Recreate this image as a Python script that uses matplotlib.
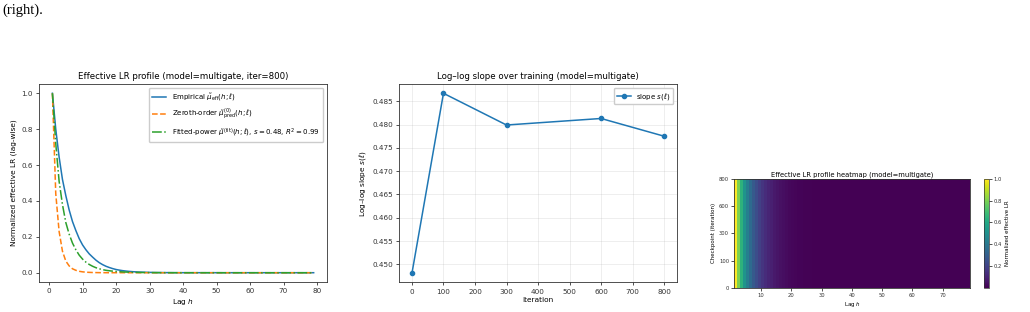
import matplotlib
matplotlib.use("Agg")
import matplotlib.pyplot as plt
import numpy as np

# lag axis and the three normalized profiles
LAGS = list(range(1, 80))

EMPIRICAL = [
    1.000, 0.800, 0.645, 0.520, 0.430, 0.350, 0.285, 0.235, 0.190, 0.155,
    0.128, 0.105, 0.087, 0.070, 0.056, 0.045, 0.036, 0.029, 0.023, 0.018,
    0.0145, 0.0115, 0.0092, 0.0073, 0.0058, 0.0046, 0.0037, 0.0030, 0.0024, 0.0019,
    0.0015, 0.0012, 0.0010, 0.0008, 0.0006, 0.0005, 0.0004, 0.0003, 0.0003,
] + [0.0002] * 10 + [0.0001] * 30

ZEROTH = [
    1.000, 0.440, 0.230, 0.120, 0.065, 0.038, 0.022, 0.0135, 0.008, 0.005,
    0.003, 0.002, 0.0012, 0.0008, 0.0005, 0.0003, 0.0002,
] + [0.0001] * 10 + [0.0] * 52

FITTED = [
    1.000, 0.720, 0.510, 0.380, 0.280, 0.215, 0.165, 0.128, 0.098, 0.076,
    0.059, 0.046, 0.036, 0.028, 0.022, 0.017, 0.0135, 0.011, 0.0088, 0.0071,
    0.0057, 0.0046, 0.0037, 0.0030, 0.0024, 0.0019, 0.0015, 0.0012, 0.0010, 0.0008,
    0.0006, 0.0005, 0.0004, 0.0003, 0.0002, 0.0002,
] + [0.0001] * 15 + [0.0] * 28

# log-log slope per checkpoint (middle panel)
ITERS = [0, 100, 300, 600, 800]
SLOPES = [0.4481, 0.4867, 0.4799, 0.4813, 0.4775]

S_FIT = 0.48
R2_FIT = 0.99

plt.rcParams.update(
    {
        "font.family": "DejaVu Sans",
        "mathtext.fontset": "dejavusans",
        "axes.linewidth": 0.6,
        "axes.edgecolor": "#333333",
        "xtick.major.width": 0.6,
        "ytick.major.width": 0.6,
        "xtick.major.size": 2.5,
        "ytick.major.size": 2.5,
        "xtick.major.pad": 2,
        "ytick.major.pad": 2,
        "xtick.color": "#333333",
        "ytick.color": "#333333",
    }
)

fig = plt.figure(figsize=(10.3, 3.12), dpi=100)

# caption fragment at top of the crop
fig.text(0.002, 0.99, "(right).", family="Liberation Serif", fontsize=10.5,
         ha="left", va="top")

# --- left: profile at iter=800
ax1 = fig.add_axes([0.0382, 0.0971, 0.279, 0.6327])
ax1.plot(LAGS, EMPIRICAL, color="#1f77b4", lw=1.1,
         label=r"Empirical $\tilde{\mu}_{\rm eff}(h;\ell)$")
ax1.plot(LAGS, ZEROTH, color="#ff7f0e", lw=1.1, ls="--",
         label=r"Zeroth-order $\tilde{\mu}^{(0)}_{\rm pred}(h;\ell)$")
ax1.plot(LAGS, FITTED, color="#2ca02c", lw=1.1, ls="-.",
         label=rf"Fitted-power $\tilde{{\mu}}^{{(\rm fit)}}(h;\ell)$, $s={S_FIT:.2f}$, $R^2={R2_FIT:.2f}$")
ax1.set_xticks(np.arange(0, 81, 10))
ax1.set_title("Effective LR profile (model=multigate, iter=800)", fontsize=6.2, pad=4)
ax1.set_xlabel("Lag $h$", fontsize=5.3, labelpad=2)
ax1.set_ylabel("Normalized effective LR (lag-wise)", fontsize=5.3, labelpad=3)
ax1.tick_params(labelsize=5.2)
ax1.legend(loc="upper right", fontsize=5.05, frameon=True, handlelength=2.0,
           borderpad=0.5, labelspacing=0.6, framealpha=1.0, edgecolor="#cccccc")

# --- middle: slope over training
ax2 = fig.add_axes([0.3877, 0.0952, 0.2693, 0.6346])
ax2.plot(ITERS, SLOPES, color="#1f77b4", lw=1.1, marker="o", ms=3,
         label=r"slope $s(\ell)$")
ax2.grid(True, alpha=0.3, lw=0.5)
ax2.set_xticks(np.arange(0, 801, 100))
ax2.set_yticks(np.arange(0.450, 0.4851, 0.005))
ax2.set_title("Log\u2013log slope over training (model=multigate)", fontsize=6.2, pad=4)
ax2.set_xlabel("Iteration", fontsize=5.3, labelpad=2)
ax2.set_ylabel("Log\u2013log slope $s(\\ell)$", fontsize=5.3, labelpad=3)
ax2.tick_params(labelsize=5.2)
ax2.legend(loc="upper right", fontsize=5.0, framealpha=1.0, edgecolor="#cccccc")

# --- right: heatmap of the profile over checkpoints
heat = np.array([EMPIRICAL for _ in ITERS])
ax3 = fig.add_axes([0.7126, 0.0779, 0.2291, 0.3484])
im = ax3.imshow(heat, aspect="auto", origin="lower", cmap="viridis",
                extent=[LAGS[0], LAGS[-1], 0, len(ITERS) - 1],
                interpolation="nearest")
ax3.set_yticks(np.arange(len(ITERS)))
ax3.set_yticklabels([str(i) for i in ITERS])
ax3.set_xticks(np.arange(10, 80, 10))
ax3.set_title("Effective LR profile heatmap (model=multigate)", fontsize=4.9, pad=2)
ax3.set_xlabel("Lag $h$", fontsize=4.0, labelpad=1.5)
ax3.set_ylabel("Checkpoint (iteration)", fontsize=4.0, labelpad=2)
ax3.tick_params(labelsize=3.8, length=2, pad=1.5)

cax = fig.add_axes([0.9553, 0.0779, 0.0049, 0.3484])
cb = fig.colorbar(im, cax=cax)
cb.set_label("Normalized effective LR", fontsize=4.0, labelpad=2)
cb.ax.tick_params(labelsize=3.8, length=2, pad=1.5)
cb.outline.set_linewidth(0.5)

fig.savefig("out.png", dpi=100)
